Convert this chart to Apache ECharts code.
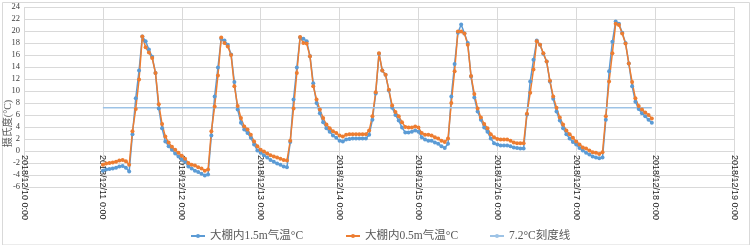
<!DOCTYPE html>
<html>
<head>
<meta charset="utf-8">
<script src="https://cdn.jsdelivr.net/npm/echarts@6/dist/echarts.min.js"></script>
<style>html,body{margin:0;padding:0;background:#fff;}#chart{width:751px;height:245px;}</style>
</head>
<body>
<div id="chart"></div>
<script>
// x-axis tick labels (one per day, 24 h apart)
const tickLabels = ['2018/12/10 0:00','2018/12/11 0:00','2018/12/12 0:00','2018/12/13 0:00','2018/12/14 0:00','2018/12/15 0:00','2018/12/16 0:00','2018/12/17 0:00','2018/12/18 0:00','2018/12/19 0:00'];
// first reading: 2018/12/11 0:00 = hour 24 after axis start; hourly readings
const startHour = 24;
const seriesNames = ['大棚内1.5m气温°C', '大棚内0.5m气温°C', '7.2°C刻度线'];
const refValue = 7.2;
// 大棚内1.5m气温 (hourly)
const temp15 = [
  -3.3,-3.1,-3.0,-2.9,-2.8,-2.6,-2.5,-2.8,-3.4,2.8,8.8,13.4,19.1,18.3,16.9,15.7,13.0,7.1,3.8,1.6,0.8,0.2,-0.4,-0.9,
  -1.4,-1.8,-2.6,-2.9,-3.3,-3.5,-3.8,-4.1,-3.9,2.6,9.1,13.9,18.7,18.4,17.7,16.1,11.5,6.9,4.7,3.6,3.0,2.2,1.1,0.1,
  -0.3,-0.7,-1.1,-1.5,-1.8,-2.1,-2.3,-2.6,-2.7,1.5,8.6,13.9,18.9,18.7,18.3,15.8,11.3,8.0,6.3,4.8,3.8,3.2,2.6,2.2,
  1.7,1.6,1.9,2.0,2.1,2.1,2.1,2.1,2.1,2.7,5.2,9.6,16.2,13.4,12.7,10.1,7.2,6.0,5.1,3.9,3.1,3.1,3.2,3.4,
  3.2,2.3,1.9,1.7,1.7,1.4,1.2,0.8,0.5,1.2,9.1,14.5,19.7,21.1,19.6,18.0,12.4,8.9,6.6,5.2,3.9,3.2,2.1,1.3,
  1.1,0.9,0.9,0.9,0.8,0.6,0.5,0.4,0.4,6.1,11.6,15.2,18.4,17.7,16.2,14.9,11.6,8.7,6.6,5.1,3.8,2.8,2.1,1.5,
  1.1,0.5,0.1,-0.3,-0.6,-0.9,-1.1,-1.2,-1.1,5.2,13.3,18.2,21.6,21.2,19.7,18.0,14.6,10.8,8.2,7.0,6.3,5.8,5.2,4.7
];
// 大棚内0.5m气温 (hourly)
const temp05 = [
  -2.3,-2.1,-2.0,-1.9,-1.8,-1.6,-1.5,-1.7,-2.3,3.3,7.0,11.9,19.1,17.3,16.4,15.5,13.0,7.8,4.5,2.4,1.4,0.7,0.2,-0.3,
  -0.8,-1.3,-2.0,-2.3,-2.4,-2.7,-2.9,-3.3,-3.1,3.3,7.4,12.6,18.9,18.0,17.4,16.0,10.8,7.5,5.5,4.1,3.6,2.7,1.6,0.8,
  0.2,-0.1,-0.4,-0.7,-0.9,-1.1,-1.3,-1.5,-1.6,1.7,7.1,13.0,19.0,18.0,17.9,15.8,10.8,8.6,6.9,5.5,4.4,3.8,3.3,3.0,
  2.6,2.4,2.7,2.8,2.8,2.8,2.8,2.8,2.8,3.4,5.8,9.8,16.3,13.4,12.7,10.2,7.6,6.5,5.8,4.8,4.0,3.9,3.9,4.1,
  3.9,3.0,2.7,2.7,2.6,2.3,2.1,1.7,1.5,2.1,8.0,13.3,19.9,19.9,19.6,17.7,12.5,9.5,7.1,5.6,4.5,3.8,2.8,2.3,
  2.0,1.9,1.9,1.9,1.7,1.4,1.3,1.3,1.3,6.2,9.7,13.6,18.3,17.7,16.3,14.9,11.7,9.1,7.2,5.6,4.4,3.4,2.8,2.2,
  1.6,1.1,0.6,0.4,0.1,-0.2,-0.3,-0.5,-0.2,5.8,11.6,16.3,21.2,21.0,19.6,17.9,14.6,11.5,8.8,7.5,6.9,6.4,6.0,5.4
];

const toXY = arr => arr.map((v, i) => [startHour + i, v]);
const refData = [[startHour, refValue], [startHour + temp15.length - 1, refValue]];

const chart = echarts.init(document.getElementById('chart'), null, {renderer: 'canvas'});
const serif = "'Liberation Serif','Noto Sans CJK SC',serif";
const gridColor = '#d9d9d9';
const legendCommon = {
  top: 224, itemWidth: 14, itemHeight: 5,
  textStyle: {fontFamily: serif, fontSize: 11.5, color: '#595959', lineHeight: 14}
};
chart.setOption({
  animation: false,
  backgroundColor: '#fff',
  grid: {left: 24, right: 17, top: 7, bottom: 58, containLabel: false},
  xAxis: {
    type: 'value', min: 0, max: 216, interval: 24,
    position: 'bottom', offset: -36,
    axisLine: {show: false, onZero: false},
    axisTick: {show: false},
    splitLine: {show: true, lineStyle: {color: gridColor, width: 1}},
    axisLabel: {
      rotate: -90, margin: 4, fontSize: 9, color: '#222',
      fontFamily: "'Liberation Sans',Arial,sans-serif",
      hideOverlap: false,
      formatter: v => tickLabels[Math.round(v / 24)]
    }
  },
  yAxis: {
    type: 'value', min: -6, max: 24, interval: 2,
    axisLine: {show: false},
    axisTick: {show: false},
    splitLine: {show: true, lineStyle: {color: gridColor, width: 1}},
    axisLabel: {margin: 4, fontSize: 8.5, color: '#404040', fontFamily: serif}
  },
  legend: [
    Object.assign({left: 185, data: [seriesNames[0]]}, legendCommon),
    Object.assign({left: 340, data: [seriesNames[1]]}, legendCommon),
    Object.assign({left: 484, data: [seriesNames[2]]}, legendCommon)
  ],
  graphic: [
    {type: 'rect', left: 0, top: 0, shape: {x: 0.5, y: 0.5, width: 747, height: 242.5},
     style: {fill: 'none', stroke: gridColor, lineWidth: 1}, silent: true},
    {type: 'text', x: 8.5, y: 123.5, rotation: Math.PI / 2,
     style: {text: '摄氏度(°C)', align: 'center', verticalAlign: 'middle',
             font: "10px 'Liberation Serif','Noto Sans CJK SC',serif", fill: '#595959'}}
  ],
  series: [
    {name: seriesNames[0], type: 'line', data: toXY(temp15), symbol: 'circle', symbolSize: 4,
     lineStyle: {width: 1.5, color: '#5b9bd5'}, itemStyle: {color: '#5b9bd5'}},
    {name: seriesNames[1], type: 'line', data: toXY(temp05), symbol: 'circle', symbolSize: 4,
     lineStyle: {width: 1.5, color: '#ed7d31'}, itemStyle: {color: '#ed7d31'}},
    {name: seriesNames[2], type: 'line', data: refData, symbol: 'none', showSymbol: false,
     lineStyle: {width: 1.5, color: '#9dc3e6'}, itemStyle: {color: '#9dc3e6'}}
  ]
});
</script>
</body>
</html>
